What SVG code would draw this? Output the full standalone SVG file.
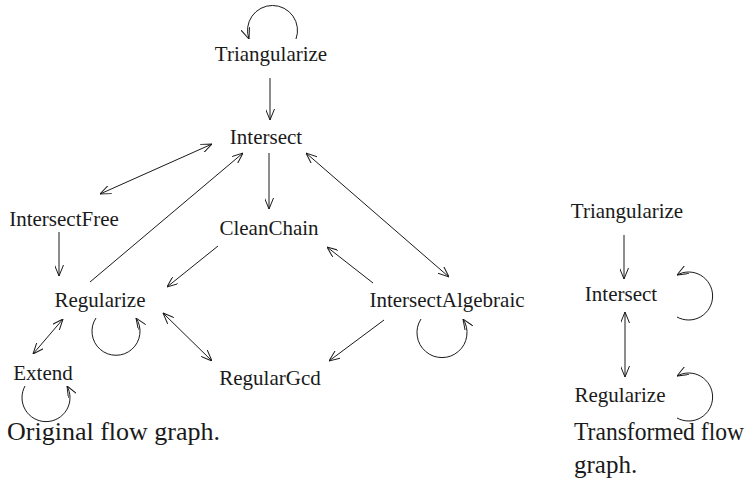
<svg xmlns="http://www.w3.org/2000/svg" width="752" height="487" viewBox="0 0 752 487">
<defs>
<marker id="ah" viewBox="0 0 11 9" refX="11" refY="4.5" markerWidth="11" markerHeight="9" markerUnits="userSpaceOnUse" orient="auto-start-reverse">
<path d="M0,0 L11,4.5 L0,9" fill="none" stroke="#1a1a1a" stroke-width="1"/>
</marker>
<style>
.lbl{font-size:21px;fill:#1a1a1a;text-anchor:middle}
.cap{font-size:25px;fill:#1a1a1a}
.e{fill:none;stroke:#1a1a1a;stroke-width:1;marker-end:url(#ah)}
.b{marker-start:url(#ah)}
</style>
</defs>
<rect width="752" height="487" fill="#fff"/>
<g font-family="'Liberation Serif', 'DejaVu Serif', serif">
<g id="n-triangularize"><text class="lbl" x="271" y="61">Triangularize</text></g>
<g id="n-intersect"><text class="lbl" x="266" y="144">Intersect</text></g>
<g id="n-intersectfree"><text class="lbl" x="64" y="226">IntersectFree</text></g>
<g id="n-cleanchain"><text class="lbl" x="269" y="235">CleanChain</text></g>
<g id="n-regularize"><text class="lbl" x="100" y="307">Regularize</text></g>
<g id="n-intersectalgebraic"><text class="lbl" x="447" y="307">IntersectAlgebraic</text></g>
<g id="n-extend"><text class="lbl" x="43" y="380">Extend</text></g>
<g id="n-regulargcd"><text class="lbl" x="270" y="385">RegularGcd</text></g>
<g id="n-r-triangularize"><text class="lbl" x="627" y="218">Triangularize</text></g>
<g id="n-r-intersect"><text class="lbl" x="621" y="301">Intersect</text></g>
<g id="n-r-regularize"><text class="lbl" x="620" y="402">Regularize</text></g>
<g id="captions">
<text class="cap" x="7" y="440" textLength="213" lengthAdjust="spacingAndGlyphs">Original flow graph.</text>
<text class="cap" x="574" y="440" font-size="24" textLength="170" lengthAdjust="spacingAndGlyphs">Transformed flow</text>
<text class="cap" x="574" y="473">graph.</text>
</g>
</g>
<g id="connectors">
<path class="e" d="M296,39 A25,25 0 1 0 249,39"/>
<path class="e" d="M270,78 L270,120"/>
<path class="e b" d="M212,144 L100,194"/>
<path class="e" d="M90,282 L243,153"/>
<path class="e" d="M269,153 L269,209"/>
<path class="e" d="M59,232 L59,276"/>
<path class="e" d="M218,246 L167,287"/>
<path class="e b" d="M306,153 L449,277"/>
<path class="e" d="M373,283 L327,247"/>
<path class="e b" d="M63,319 L33,354"/>
<path class="e b" d="M163,313 L212,361"/>
<path class="e" d="M384,320 L329,361"/>
<path class="e" d="M96,318 A24,24 0 1 0 136,318"/>
<path class="e" d="M25,386 A24,24 0 1 0 67,386"/>
<path class="e" d="M421,319 A25,25 0 1 0 463,319"/>
<path class="e" d="M624,235 L624,279"/>
<path class="e b" d="M625,312 L625,377"/>
<path class="e" d="M677,317 A24,24 0 1 0 677,275"/>
<path class="e" d="M677,418 A24,24 0 1 0 677,376"/>
</g>
</svg>
